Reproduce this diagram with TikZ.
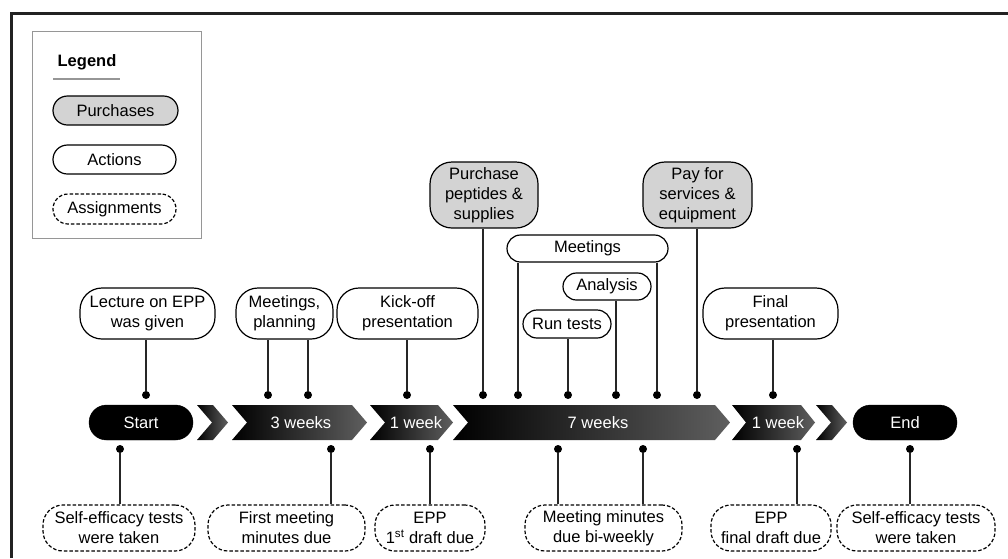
\documentclass[tikz,border=0pt]{standalone}
\usepackage{fontspec}
\setmainfont{Liberation Sans}
\definecolor{purfill}{RGB}{211,211,211}
\definecolor{bargray}{RGB}{95,95,95}
\definecolor{framec}{RGB}{34,34,34}
\definecolor{legc}{RGB}{150,150,150}
\begin{document}
\begin{tikzpicture}[x=1pt,y=-1pt,
  box/.style={draw=black, line width=1.2pt, align=center, inner sep=0pt,
    font=\fontsize{16.5}{20}\selectfont, text=black},
  act/.style={box, fill=white},
  pur/.style={box, fill=purfill},
  asg/.style={box, fill=white, dash pattern=on 3.5pt off 2pt},
  dot/.style={circle, fill=black, inner sep=0pt, minimum size=8pt},
  link/.style={line width=1.2pt, draw=black!85},
  bar/.style={left color=black, right color=bargray, draw=none},
  bartext/.style={text=white, font=\fontsize{16.5}{20}\selectfont, inner sep=0pt},
  endpt/.style={fill=black, draw=black, rounded corners=17.5pt, minimum width=104pt,
    minimum height=35pt, text=white, font=\fontsize{16.5}{20}\selectfont, inner sep=0pt},
]
\useasboundingbox (0,0) rectangle (1008,558);
% frame
\draw[framec, line width=3pt] (11.5,558) -- (11.5,13) -- (1008,13);

% legend
\draw[legc, line width=1pt] (32,31) rectangle (201,238);
\node[font=\fontsize{16.5}{20}\selectfont\bfseries, inner sep=0pt] (legt) at (87,62) {Legend};
\draw[legc, line width=1.2pt] (53,79) -- (120,79);
\node[pur, minimum width=125pt, minimum height=29pt, rounded corners=14.5pt] (legp) at (115.5,110.5) {Purchases};
\node[act, minimum width=123pt, minimum height=29pt, rounded corners=14.5pt] (lega) at (114.5,159.5) {Actions};
\node[asg, minimum width=123pt, minimum height=30pt, rounded corners=15pt] (legs) at (114.5,209) {Assignments};

% timeline bar
\node[endpt] (start) at (141,422.5) {Start};
\shade[bar] (197,405) -- (213,405) -- (228,422.5) -- (213,440) -- (197,440) -- (212,422.5) -- cycle;
\shade[bar] (232,405) -- (352,405) -- (367,422.5) -- (352,440) -- (232,440) -- (247,422.5) -- cycle;
\node[bartext] (w3) at (301,422.5) {3 weeks};
\shade[bar] (370,405) -- (438,405) -- (453,422.5) -- (438,440) -- (370,440) -- (385,422.5) -- cycle;
\node[bartext] (w1a) at (416,422.5) {1 week};
\shade[bar] (453,405) -- (715,405) -- (730,422.5) -- (715,440) -- (453,440) -- (468,422.5) -- cycle;
\node[bartext] (w7) at (598,422.5) {7 weeks};
\shade[bar] (732,405) -- (801,405) -- (815,422.5) -- (801,440) -- (732,440) -- (746,422.5) -- cycle;
\node[bartext] (w1b) at (778,422.5) {1 week};
\shade[bar] (816,405) -- (832,405) -- (847,422.5) -- (832,440) -- (816,440) -- (831,422.5) -- cycle;
\node[endpt] (end) at (905,422.5) {End};

% top nodes
\node[act, minimum width=135pt, minimum height=51pt, rounded corners=22pt] (lect) at (147.5,313.5) {Lecture on EPP\\was given};
\node[act, minimum width=97pt, minimum height=51pt, rounded corners=22pt] (mplan) at (284.5,313.5) {Meetings,\\planning};
\node[act, minimum width=141pt, minimum height=51pt, rounded corners=22pt] (kick) at (407.5,313.5) {Kick-off\\presentation};
\node[pur, minimum width=108pt, minimum height=66pt, rounded corners=22pt] (purch) at (484,195) {Purchase\\peptides \&\\supplies};
\node[pur, minimum width=109pt, minimum height=66pt, rounded corners=22pt] (pay) at (697.5,195) {Pay for\\services \&\\equipment};
\node[act, minimum width=161pt, minimum height=27pt, rounded corners=13.5pt] (meet) at (587.5,248.5) {Meetings};
\node[act, minimum width=88pt, minimum height=27pt, rounded corners=13.5pt] (anal) at (607,286.5) {Analysis};
\node[act, minimum width=88pt, minimum height=28pt, rounded corners=14pt] (runt) at (567,324) {Run tests};
\node[act, minimum width=135pt, minimum height=51pt, rounded corners=22pt] (fin) at (770.5,313.5) {Final\\presentation};

% top dots
\node[dot] (t1) at (146,395) {};
\node[dot] (t2) at (268,395) {};
\node[dot] (t3) at (308,395) {};
\node[dot] (t4) at (407,395) {};
\node[dot] (t5) at (483,395) {};
\node[dot] (t6) at (518,395) {};
\node[dot] (t7) at (568,395) {};
\node[dot] (t8) at (616,395) {};
\node[dot] (t9) at (657,395) {};
\node[dot] (t10) at (697,395) {};
\node[dot] (t11) at (773,395) {};

\draw[link] (t1) -- (lect.south -| t1);
\draw[link] (t2) -- (mplan.south -| t2);
\draw[link] (t3) -- (mplan.south -| t3);
\draw[link] (t4) -- (kick.south -| t4);
\draw[link] (t5) -- (purch.south -| t5);
\draw[link] (t6) -- (meet.south -| t6);
\draw[link] (t7) -- (runt.south -| t7);
\draw[link] (t8) -- (anal.south -| t8);
\draw[link] (t9) -- (meet.south -| t9);
\draw[link] (t10) -- (pay.south -| t10);
\draw[link] (t11) -- (fin.south -| t11);

% bottom nodes
\node[asg, minimum width=152pt, minimum height=46pt, rounded corners=20pt] (se1) at (119,528) {Self-efficacy tests\\were taken};
\node[asg, minimum width=157pt, minimum height=46pt, rounded corners=20pt] (fmm) at (286.5,528) {First meeting\\minutes due};
\node[asg, minimum width=110pt, minimum height=46pt, rounded corners=20pt] (epp1) at (430,528) {EPP\\1\textsuperscript{st} draft due};
\node[asg, minimum width=157pt, minimum height=46pt, rounded corners=20pt] (mmd) at (603.5,528) {Meeting minutes\\due bi-weekly};
\node[asg, minimum width=120pt, minimum height=46pt, rounded corners=20pt] (eppf) at (771,528) {EPP\\final draft due};
\node[asg, minimum width=158pt, minimum height=46pt, rounded corners=20pt] (se2) at (916,528) {Self-efficacy tests\\were taken};

% bottom dots
\node[dot] (b1) at (120,449) {};
\node[dot] (b2) at (331,449) {};
\node[dot] (b3) at (430,449) {};
\node[dot] (b4) at (558,449) {};
\node[dot] (b5) at (643,449) {};
\node[dot] (b6) at (797,449) {};
\node[dot] (b7) at (910,449) {};

\draw[link] (b1) -- (se1.north -| b1);
\draw[link] (b2) -- (fmm.north -| b2);
\draw[link] (b3) -- (epp1.north -| b3);
\draw[link] (b4) -- (mmd.north -| b4);
\draw[link] (b5) -- (mmd.north -| b5);
\draw[link] (b6) -- (eppf.north -| b6);
\draw[link] (b7) -- (se2.north -| b7);
\end{tikzpicture}
\end{document}
